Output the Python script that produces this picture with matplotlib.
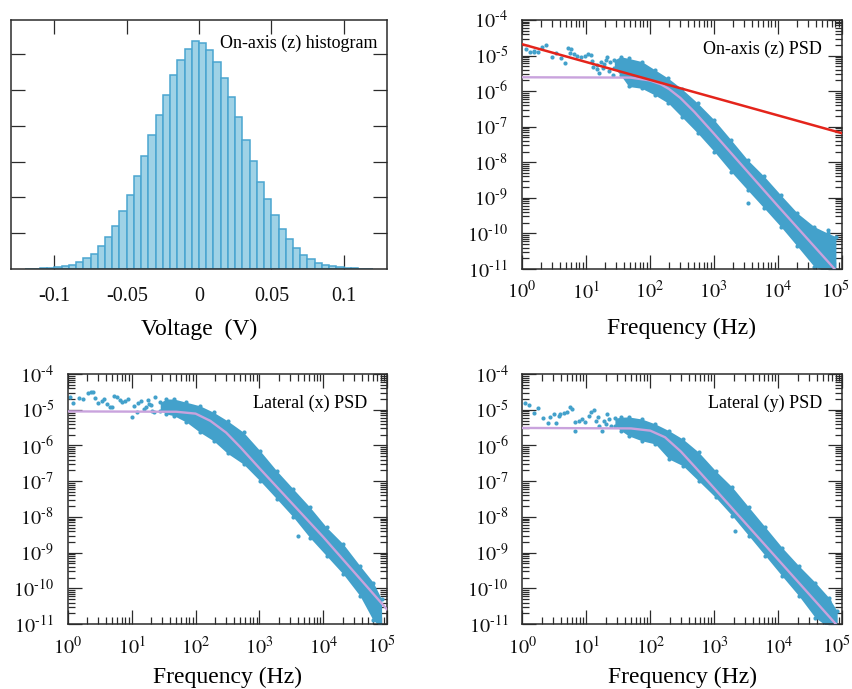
import numpy as np
import matplotlib
matplotlib.use("Agg")
import matplotlib.pyplot as plt
from matplotlib.ticker import LogLocator, NullFormatter
from matplotlib.transforms import ScaledTranslation

# ---- histogram (on-axis z) ----
bin_start = -0.12
bin_width = 0.005
counts = [0.01, 0.01, 0.02, 0.03, 0.047, 0.075, 0.12, 0.20, 0.30, 0.43,
          0.63, 0.89, 1.21, 1.61, 2.06, 2.59, 3.14, 3.73, 4.31, 4.87,
          5.41, 5.82, 6.15, 6.35, 6.32, 6.11, 5.79, 5.32, 4.80, 4.25,
          3.61, 3.01, 2.44, 1.96, 1.51, 1.12, 0.84, 0.59, 0.40, 0.27,
          0.18, 0.11, 0.075, 0.047, 0.03, 0.02, 0.01, 0.01]
volt_ticks = [-0.1, -0.05, 0, 0.05, 0.1]
volt_labels = ["-0.1", "-0.05", "0", "0.05", "0.1"]

# ---- shared PSD axes ----
freq_ticks = [1, 10, 100, 1e3, 1e4, 1e5]
freq_labels = [r"$10^{0}$", r"$10^{1}$", r"$10^{2}$", r"$10^{3}$", r"$10^{4}$", r"$10^{5}$"]
psd_ticks = [1e-11, 1e-10, 1e-9, 1e-8, 1e-7, 1e-6, 1e-5, 1e-4]
psd_labels = [r"$10^{\text{-}11}$", r"$10^{\text{-}10}$", r"$10^{\text{-}9}$", r"$10^{\text{-}8}$",
              r"$10^{\text{-}7}$", r"$10^{\text{-}6}$", r"$10^{\text{-}5}$", r"$10^{\text{-}4}$"]

# ---- on-axis (z) PSD ----
z_pts_f = [1.15, 1.35, 1.58, 1.82, 2.09, 2.37, 3.02, 3.47, 4.07, 4.68, 5.37, 5.89, 5.69,
           6.46, 7.24, 8.51, 9.77, 11.0, 12.0, 13.2, 14.8, 16.2, 17.4, 19.5, 21.9, 24.0,
           12.6, 15.1, 18.6, 20.9, 22.9, 26.3, 1.58,
           49, 55, 3390, 61000]
z_pts_psd = [1.51e-5, 1.23e-5, 1.29e-5, 1.29e-5, 1.78e-5, 1.95e-5, 9.3e-6, 1.15e-5, 8.3e-6,
             6.3e-6, 1.62e-5, 1.55e-5, 1.2e-5, 1.11e-5, 9.8e-6, 8.9e-6, 9.8e-6, 1.11e-5,
             1.07e-5, 4.9e-6, 4.1e-6, 3.3e-6, 6.8e-6, 5.75e-6, 8.9e-6, 6.8e-6,
             7.1e-6, 5.6e-6, 4.5e-6, 7.6e-6, 3.8e-6, 2.8e-6, 1.38e-5,
             1.48e-6, 1.66e-6, 7.1e-10, 1.26e-10]
z_band_f = [28, 35, 47, 75, 120, 195, 316, 562, 1020, 1860, 3390, 6170, 11200,
            20400, 37200, 60300, 81300]
z_band_hi = [7.5e-6, 9.3e-6, 8.3e-6, 6.8e-6, 4.0e-6, 2.3e-6, 1.17e-6, 4.6e-7, 1.55e-7,
             4.3e-8, 1.17e-8, 4.0e-9, 1.2e-9, 3.7e-10, 1.55e-10, 1.02e-10, 8.1e-11]
z_band_lo = [4.5e-6, 2.85e-6, 1.35e-6, 1.2e-6, 7.8e-7, 4.6e-7, 1.9e-7, 6.6e-8, 2.0e-8,
             5.5e-9, 1.66e-9, 5.1e-10, 1.55e-10, 4.3e-11, 1.17e-11, 8e-12, 8e-12]
z_fit_f = [1, 50, 100, 150, 200, 300, 500, 1000, 1e4, 1e5]
z_fit_psd = [2.45e-6, 2.4e-6, 2.0e-6, 1.55e-6, 1.15e-6, 6.5e-7, 2.6e-7, 6.5e-8, 6e-10, 6e-12]
z_trend_f = [1, 1e5]
z_trend_psd = [2.1e-5, 6.6e-8]

# ---- lateral (x) PSD ----
x_pts_f = [1.10, 1.23, 1.48, 1.74, 2.04, 2.29, 2.51, 2.69, 3.02, 3.47, 3.72, 4.07, 4.57,
           4.90, 5.37, 5.89, 6.46, 7.08, 7.94, 8.91, 10.0, 10.7, 12.0, 14.1, 15.8, 18.6,
           20.9, 23.4, 12.6, 16.6, 20.0, 22.4, 17.8, 4070]
x_pts_psd = [2.24e-5, 1.58e-5, 2.14e-5, 2.0e-5, 3.0e-5, 3.16e-5, 3.2e-5, 2.14e-5, 1.51e-5,
             1.78e-5, 2.0e-5, 1.45e-5, 1.17e-5, 1.2e-5, 2.45e-5, 2.24e-5, 1.86e-5, 1.62e-5,
             1.78e-5, 2.0e-5, 6.3e-6, 1.29e-5, 8.5e-6, 1.78e-5, 1.05e-5, 1.45e-5, 9.3e-6,
             2.34e-5, 1.58e-5, 1.2e-5, 1.32e-5, 8.9e-6, 1.9e-5, 2.95e-9]
x_band_f = [28, 35, 46, 72, 117, 191, 316, 562, 1020, 1860, 3390, 6170, 11200,
            20400, 37200, 60300, 81300]
x_band_hi = [1.6e-5, 2.0e-5, 2.0e-5, 1.62e-5, 1.29e-5, 8.5e-6, 4.9e-6, 2.34e-6, 7.1e-7,
             1.95e-7, 6.0e-8, 1.86e-8, 5.1e-9, 1.74e-9, 4.3e-10, 1.45e-10, 5.0e-11]
x_band_lo = [9.5e-6, 7.6e-6, 6.8e-6, 4.5e-6, 2.34e-6, 1.35e-6, 6.0e-7, 3.0e-7, 1.02e-7,
             3.2e-8, 9.8e-9, 2.6e-9, 8.1e-10, 2.5e-10, 6.2e-11, 1.26e-11, 8e-12]
x_fit_f = [1, 50, 100, 170, 300, 500, 1000, 1e4, 1e5]
x_fit_psd = [9.0e-6, 8.8e-6, 7.8e-6, 4.9e-6, 2.3e-6, 9.0e-7, 2.3e-7, 2.7e-9, 2.5e-11]

# ---- lateral (y) PSD ----
y_pts_f = [1.12, 1.29, 1.55, 1.76, 2.14, 2.51, 2.75, 3.09, 3.31, 3.72, 3.89, 4.42, 5.01,
           5.62, 6.03, 6.61, 6.76, 7.59, 8.51, 9.66, 11.0, 12.0, 13.0, 14.1, 15.8, 17.6,
           20.0, 22.4, 15.1, 18.6, 21.4, 24.0, 2140, 61700]
y_pts_psd = [1.58e-5, 1.38e-5, 7.9e-6, 1.1e-5, 5.75e-6, 4.4e-6, 6.3e-6, 7.6e-6, 4.3e-6,
             6.8e-6, 7.6e-6, 7.9e-6, 8.9e-6, 1.17e-5, 1.05e-5, 2.6e-6, 4.5e-6, 4.9e-6,
             5.5e-6, 4.5e-6, 6.8e-6, 8.5e-6, 9.8e-6, 4.9e-6, 3.55e-6, 2.6e-6, 4.0e-6,
             5.5e-6, 6.3e-6, 5.0e-6, 7.4e-6, 3.55e-6, 4.1e-9, 4.5e-11]
y_band_f = [28, 35, 46, 74, 120, 195, 324, 569, 1050, 1910, 3470, 6310, 11500,
            20900, 38000, 61700, 83200]
y_band_hi = [5.8e-6, 6.2e-6, 6.3e-6, 5.5e-6, 4.0e-6, 2.6e-6, 1.51e-6, 6.5e-7, 1.95e-7,
             6.8e-8, 1.86e-8, 5.1e-9, 1.38e-9, 4.3e-10, 1.45e-10, 5.5e-11, 2.3e-11]
y_band_lo = [3.6e-6, 2.6e-6, 1.86e-6, 1.35e-6, 1.1e-6, 4.2e-7, 2.7e-7, 1.02e-7, 3.5e-8,
             1.07e-8, 2.95e-9, 8.1e-10, 2.2e-10, 6.2e-11, 1.5e-11, 8e-12, 8e-12]
y_fit_f = [1, 50, 100, 170, 300, 500, 1000, 1e4, 1e5]
y_fit_psd = [3.1e-6, 3.0e-6, 2.6e-6, 1.7e-6, 6.8e-7, 2.5e-7, 6.3e-8, 6.3e-10, 6.3e-12]

DOT = "#43a1cb"
FIT = "#c9a3dd"
TREND = "#e4241b"
BAR_FACE = "#9fd2e6"
BAR_EDGE = "#4aa5d0"
INK = "#2b2b2b"

plt.rcParams["font.family"] = ["Liberation Serif", "DejaVu Serif"]
plt.rcParams["mathtext.fontset"] = "stix"
plt.rcParams["axes.unicode_minus"] = False
plt.rcParams["axes.linewidth"] = 1.1
plt.rcParams["axes.edgecolor"] = INK

fig = plt.figure(figsize=(8.53, 6.89), dpi=100)


def frame(ax):
    ax.tick_params(which="both", direction="in", top=True, right=True,
                   color=INK, width=0.9, labelsize=14.5, labelcolor="#111111")
    ax.tick_params(which="major", length=10)
    ax.tick_params(which="minor", length=5)


def psd_panel(ax, label, pts_f, pts_psd, band_f, band_lo, band_hi, fit_f, fit_psd, xpad):
    ax.set_xscale("log")
    ax.set_yscale("log")
    ax.fill_between(band_f, band_lo, band_hi, color=DOT, lw=0, zorder=2)
    ax.scatter(band_f, band_hi, s=9, color=DOT, lw=0, zorder=2)
    ax.scatter(band_f, band_lo, s=9, color=DOT, lw=0, zorder=2)
    ax.scatter(pts_f, pts_psd, s=9, color=DOT, lw=0, zorder=2)
    ax.plot(fit_f, fit_psd, color=FIT, lw=1.7, zorder=3)
    ax.set_xlim(1, 1e5)
    ax.set_ylim(1e-11, 1e-4)
    ax.set_xticks(freq_ticks)
    ax.set_xticklabels(freq_labels)
    ax.set_yticks(psd_ticks)
    ax.set_yticklabels(psd_labels)
    ax.xaxis.set_minor_locator(LogLocator(base=10, subs=np.arange(2, 10), numticks=50))
    ax.yaxis.set_minor_locator(LogLocator(base=10, subs=np.arange(2, 10), numticks=50))
    ax.xaxis.set_minor_formatter(NullFormatter())
    ax.yaxis.set_minor_formatter(NullFormatter())
    frame(ax)
    ax.tick_params(axis="x", which="major", pad=9)
    ax.tick_params(axis="y", which="major", pad=10)
    # the last decade label sits a little left of its tick, as in the original
    last = ax.get_xticklabels()[-1]
    last.set_transform(last.get_transform() + ScaledTranslation(-6 / 100, 0, fig.dpi_scale_trans))
    ax.set_xlabel("Frequency (Hz)", fontsize=17, labelpad=xpad)
    ax.text(0.937, 0.883, label, transform=ax.transAxes, ha="right", va="center", fontsize=13)


# histogram
ax_h = fig.add_axes([0.0129, 0.6096, 0.4408, 0.3614])
edges = bin_start + bin_width * np.arange(len(counts))
ax_h.bar(edges, counts, width=bin_width, align="edge", color=BAR_FACE,
         edgecolor=BAR_EDGE, linewidth=1.1, zorder=2)
ax_h.set_xlim(-0.13, 0.13)
ax_h.set_ylim(0, 6.95)
ax_h.set_xticks(volt_ticks)
ax_h.set_xticklabels(volt_labels)
ax_h.set_yticks([1, 2, 3, 4, 5, 6])
ax_h.set_yticklabels([])
frame(ax_h)
ax_h.tick_params(axis="x", pad=13)
ax_h.set_xlabel("Voltage  (V)", fontsize=17, labelpad=9)
ax_h.text(0.976, 0.908, "On-axis (z) histogram", transform=ax_h.transAxes,
          ha="right", va="center", fontsize=13)

ax_z = fig.add_axes([0.6116, 0.6096, 0.3751, 0.3614])
psd_panel(ax_z, "On-axis (z) PSD", z_pts_f, z_pts_psd, z_band_f, z_band_lo, z_band_hi,
          z_fit_f, z_fit_psd, 10)
ax_z.plot(z_trend_f, z_trend_psd, color=TREND, lw=1.8, zorder=4)

ax_x = fig.add_axes([0.0794, 0.0943, 0.3747, 0.3628])
psd_panel(ax_x, "Lateral (x) PSD", x_pts_f, x_pts_psd, x_band_f, x_band_lo, x_band_hi,
          x_fit_f, x_fit_psd, 6)

ax_y = fig.add_axes([0.6123, 0.0943, 0.3751, 0.3628])
psd_panel(ax_y, "Lateral (y) PSD", y_pts_f, y_pts_psd, y_band_f, y_band_lo, y_band_hi,
          y_fit_f, y_fit_psd, 6)

fig.savefig("out.png", dpi=100)
